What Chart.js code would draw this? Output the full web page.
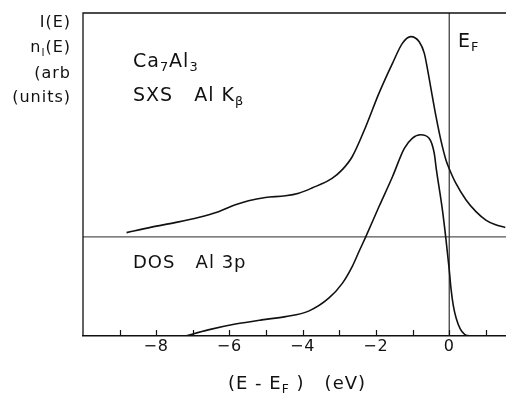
<!DOCTYPE html>
<html>
<head>
<meta charset="utf-8">
<script src="https://cdn.jsdelivr.net/npm/chart.js@4/dist/chart.umd.min.js"></script>
<style>
  html, body { margin: 0; padding: 0; background: #fff; }
  #wrap { width: 506px; height: 394px; }
</style>
</head>
<body>
<div id="wrap"><canvas id="spectrum" width="506" height="394"></canvas></div>
<script>
// Energy relative to the Fermi level (eV) and intensities in arbitrary units
const sxsEnergy = [-8.81, -8.13, -7.49, -6.85, -6.30, -5.84, -5.48, -5.02, -4.47, -4.11, -3.75, -3.20, -2.92, -2.65, -2.28, -1.92, -1.55, -1.28, -1.05, -0.82, -0.68, -0.59, -0.46, -0.36, -0.23, -0.09, 0, 0.18, 0.46, 0.73, 1.01, 1.25, 1.53];
const sxsIntensity = [3.20, 3.37, 3.51, 3.67, 3.85, 4.06, 4.19, 4.29, 4.34, 4.42, 4.58, 4.88, 5.15, 5.55, 6.48, 7.51, 8.44, 9.06, 9.27, 9.11, 8.75, 8.24, 7.41, 6.79, 6.07, 5.45, 5.18, 4.73, 4.21, 3.85, 3.58, 3.45, 3.36];

const dosEnergy = [-7.21, -6.58, -5.84, -5.12, -4.47, -3.84, -3.29, -2.92, -2.65, -2.47, -2.28, -1.92, -1.55, -1.23, -1.01, -0.78, -0.55, -0.41, -0.35, -0.27, -0.18, -0.09, 0, 0.05, 0.11, 0.19, 0.30, 0.42, 0.55];
const dosDensity = [0, 0.19, 0.37, 0.50, 0.60, 0.77, 1.17, 1.63, 2.15, 2.60, 3.07, 4.00, 4.93, 5.80, 6.12, 6.23, 6.12, 5.66, 5.14, 4.55, 3.85, 3.00, 2.05, 1.45, 0.95, 0.55, 0.22, 0.05, 0];

const xTicks = [-8, -6, -4, -2, 0];
const fermiEnergy = 0;
const sxsBaseline = 3.07;
const energyMin = -10, energyMax = 1.55;
const yMin = 0, yMax = 10;

const INK = '#111';
const FONT = '"DejaVu Sans", Arial, sans-serif';

function toPoints(xs, ys) {
    return xs.map((x, i) => ({ x: x, y: ys[i] }));
}

// draws a run of text pieces, some of them as subscripts
function richText(ctx, parts, x, y, size, align) {
    let total = 0;
    parts.forEach(p => {
        ctx.font = (p.sub ? size * 0.68 : size) + 'px ' + FONT;
        total += ctx.measureText(p.t).width;
    });
    let cx = align === 'right' ? x - total : (align === 'center' ? x - total / 2 : x);
    ctx.textAlign = 'left';
    ctx.textBaseline = 'alphabetic';
    parts.forEach(p => {
        ctx.font = (p.sub ? size * 0.68 : size) + 'px ' + FONT;
        ctx.fillText(p.t, cx, p.sub ? y + size * 0.22 : y);
        cx += ctx.measureText(p.t).width;
    });
}

// frame, inner tick marks and the text labels
const decorations = {
    id: 'decorations',
    beforeDraw(chart) {
        chart.ctx.letterSpacing = '1px';
    },
    afterDraw(chart) {
        const ctx = chart.ctx;
        const area = chart.chartArea;
        const xs = chart.scales.x;
        ctx.save();
        ctx.strokeStyle = INK;
        ctx.fillStyle = INK;
        ctx.lineWidth = 1.3;
        ctx.beginPath();
        ctx.moveTo(area.left, area.bottom);
        ctx.lineTo(area.left, area.top);
        ctx.lineTo(area.right, area.top);
        ctx.stroke();

        // ticks every 1 eV pointing into the plot
        ctx.lineWidth = 1.2;
        for (let e = Math.ceil(energyMin); e <= energyMax; e++) {
            if (e === energyMin) continue;
            const px = Math.round(xs.getPixelForValue(e)) + 0.5;
            ctx.beginPath();
            ctx.moveTo(px, area.bottom);
            ctx.lineTo(px, area.bottom - 6);
            ctx.stroke();
        }

        // y axis caption
        ctx.letterSpacing = '1px';
        richText(ctx, [{ t: 'I(E)' }], 71, 27, 16, 'right');
        richText(ctx, [{ t: 'n' }, { t: 'l', sub: true }, { t: '(E)' }], 71, 52, 16, 'right');
        richText(ctx, [{ t: '(arb' }], 71, 78, 16, 'right');
        richText(ctx, [{ t: '(units)' }], 71, 102, 16, 'right');

        // curve labels
        richText(ctx, [{ t: 'Ca' }, { t: '7', sub: true }, { t: 'Al' }, { t: '3', sub: true }], 133, 67, 19, 'left');
        richText(ctx, [{ t: 'SXS   Al K' }, { t: 'β', sub: true }], 133, 101, 19, 'left');
        richText(ctx, [{ t: 'DOS   Al 3p' }], 133, 268, 18, 'left');
        richText(ctx, [{ t: 'E' }, { t: 'F', sub: true }], 458, 47, 19, 'left');

        // x axis caption
        richText(ctx, [{ t: '(E - E' }, { t: 'F', sub: true }, { t: ' )   (eV)' }], 297, 389, 18, 'center');
        ctx.restore();
    }
};

const chart = new Chart(document.getElementById('spectrum'), {
    type: 'line',
    data: {
        datasets: [{
            label: 'SXS Al Kβ',
            data: toPoints(sxsEnergy, sxsIntensity),
            borderColor: INK,
            borderWidth: 1.6,
            pointRadius: 0,
            cubicInterpolationMode: 'monotone'
        }, {
            label: 'DOS Al 3p',
            data: toPoints(dosEnergy, dosDensity),
            borderColor: INK,
            borderWidth: 1.6,
            pointRadius: 0,
            cubicInterpolationMode: 'monotone'
        }, {
            label: 'EF',
            data: [{ x: fermiEnergy, y: yMin }, { x: fermiEnergy, y: yMax }],
            borderColor: '#333',
            borderWidth: 1.2,
            pointRadius: 0
        }, {
            label: 'baseline',
            data: [{ x: energyMin, y: sxsBaseline }, { x: energyMax, y: sxsBaseline }],
            borderColor: '#555',
            borderWidth: 1.2,
            pointRadius: 0
        }]
    },
    options: {
        responsive: false,
        animation: false,
        events: [],
        layout: { padding: { left: 83, top: 13, right: 0, bottom: 0 } },
        plugins: {
            legend: { display: false },
            tooltip: { enabled: false }
        },
        scales: {
            x: {
                type: 'linear',
                min: energyMin,
                max: energyMax,
                afterFit(scale) { scale.height = 58; },
                afterBuildTicks(scale) {
                    scale.ticks = xTicks.map(v => ({ value: v }));
                },
                ticks: {
                    color: INK,
                    padding: 1,
                    font: { family: FONT, size: 16 },
                    maxRotation: 0,
                    callback: v => (v < 0 ? '\u2212' + Math.abs(v) : String(v))
                },
                grid: { drawOnChartArea: false, drawTicks: false },
                border: { color: INK, width: 1.4 }
            },
            y: {
                display: false,
                min: yMin,
                max: yMax
            }
        }
    },
    plugins: [decorations]
});
</script>
</body>
</html>
